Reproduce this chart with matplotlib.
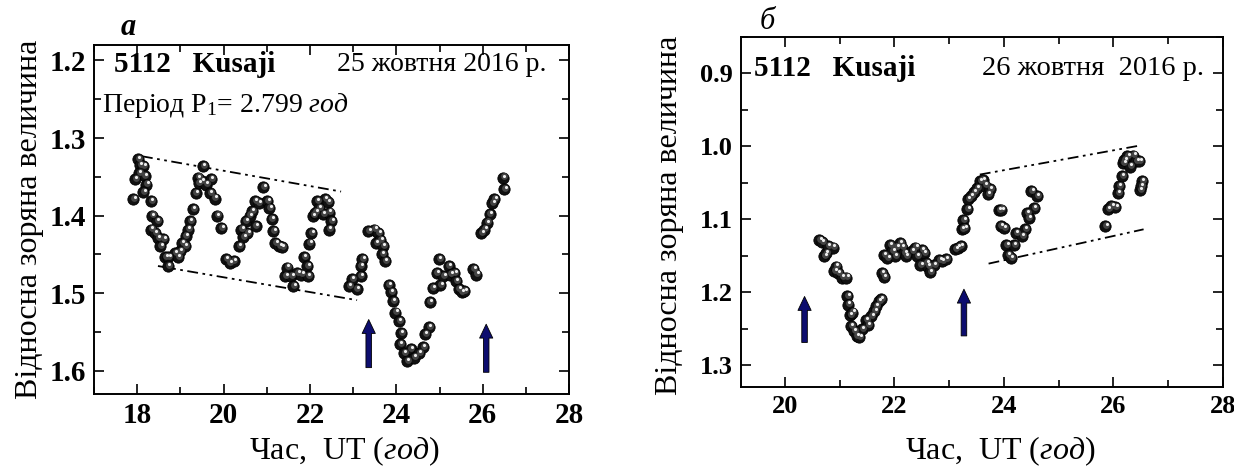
import matplotlib
matplotlib.use('Agg')
import matplotlib.pyplot as plt
import matplotlib.transforms as mtransforms
from matplotlib.ticker import MultipleLocator

plt.rcParams['font.family'] = ['Liberation Serif', 'DejaVu Serif']
plt.rcParams['mathtext.fontset'] = 'custom'
plt.rcParams['mathtext.rm'] = 'Liberation Serif'
plt.rcParams['mathtext.it'] = 'Liberation Serif:italic'

# ---------------- panel a : 25 October 2016 ----------------
time_a = [17.91, 17.95, 18.02, 18.06, 18.04, 18.14, 18.17, 18.21, 18.14, 18.32,
          18.34, 18.46, 18.32, 18.41, 18.48, 18.53, 18.60, 18.65, 18.72, 18.71,
          18.87, 18.94, 18.99, 19.03, 19.10, 19.12, 19.17, 19.22, 19.29, 19.35,
          19.40, 19.42, 19.52, 19.49, 19.59, 19.71, 19.68, 19.79, 19.84, 19.95,
          20.05, 20.14, 20.23, 20.35, 20.41, 20.46, 20.51, 20.55, 20.60, 20.65,
          20.72, 20.74, 20.81, 20.92, 21.01, 21.06, 21.11, 21.15, 21.20, 21.29,
          21.35, 21.43, 21.47, 21.57, 21.61, 21.71, 21.80, 21.86, 21.94, 21.95,
          21.98, 22.03, 22.07, 22.12, 22.16, 22.21, 22.30, 22.35, 22.41, 22.44,
          22.49, 22.44, 22.90, 22.97, 23.08, 23.17, 23.17, 23.21, 23.35, 23.49,
          23.58, 23.53, 23.63, 23.69, 23.67, 23.73, 23.82, 23.87, 23.92, 23.98,
          24.06, 24.10, 24.08, 24.17, 24.24, 24.33, 24.41, 24.52, 24.61, 24.66,
          24.75, 24.77, 24.84, 24.93, 24.98, 25.02, 25.09, 25.21, 25.25, 25.34,
          25.38, 25.44, 25.51, 25.57, 25.78, 25.85, 25.97, 26.04, 26.10, 26.16,
          26.22, 26.27, 26.47, 26.50]
mag_a = [1.379, 1.353, 1.327, 1.335, 1.345, 1.336, 1.349, 1.360, 1.370, 1.381,
         1.400, 1.407, 1.418, 1.422, 1.429, 1.439, 1.430, 1.454, 1.454, 1.465,
         1.448, 1.454, 1.446, 1.435, 1.439, 1.426, 1.418, 1.407, 1.392, 1.371,
         1.351, 1.358, 1.336, 1.356, 1.360, 1.353, 1.371, 1.378, 1.400, 1.416,
         1.456, 1.461, 1.459, 1.439, 1.418, 1.428, 1.407, 1.422, 1.400, 1.394,
         1.381, 1.413, 1.384, 1.363, 1.381, 1.390, 1.405, 1.420, 1.435, 1.439,
         1.441, 1.478, 1.467, 1.478, 1.491, 1.474, 1.476, 1.454, 1.465, 1.478,
         1.436, 1.422, 1.400, 1.396, 1.381, 1.390, 1.398, 1.379, 1.383, 1.396,
         1.407, 1.418, 1.491, 1.482, 1.495, 1.478, 1.465, 1.456, 1.420, 1.418,
         1.422, 1.435, 1.431, 1.439, 1.450, 1.459, 1.489, 1.499, 1.510, 1.525,
         1.536, 1.551, 1.566, 1.577, 1.587, 1.572, 1.583, 1.577, 1.570, 1.553,
         1.544, 1.512, 1.493, 1.474, 1.456, 1.489, 1.478, 1.465, 1.476, 1.474,
         1.484, 1.495, 1.499, 1.497, 1.469, 1.476, 1.422, 1.418, 1.409, 1.398,
         1.384, 1.379, 1.351, 1.366]
trend_a_up_x = [18.11, 22.72]
trend_a_up_y = [1.3235, 1.369]
trend_a_lo_x = [18.48, 23.09]
trend_a_lo_y = [1.465, 1.509]
arrow_a_x = [23.36, 26.08]
arrow_a_tail = [1.596, 1.602]
arrow_a_tip = [1.534, 1.540]

# ---------------- panel b : 26 October 2016 ----------------
time_b = [20.63, 20.68, 20.72, 20.75, 20.79, 20.88, 20.90, 20.93, 20.97, 21.04,
          21.12, 21.14, 21.15, 21.19, 21.23, 21.21, 21.26, 21.31, 21.36, 21.41,
          21.48, 21.52, 21.58, 21.63, 21.66, 21.72, 21.75, 21.77, 21.81, 21.81,
          21.87, 21.92, 21.96, 22.01, 22.04, 22.10, 22.14, 22.18, 22.21, 22.32,
          22.38, 22.41, 22.47, 22.50, 22.54, 22.58, 22.61, 22.65, 22.72, 22.82,
          22.87, 22.94, 23.11, 23.16, 23.21, 23.23, 23.26, 23.28, 23.33, 23.34,
          23.40, 23.45, 23.51, 23.56, 23.61, 23.65, 23.71, 23.74, 23.91, 23.95,
          23.94, 24.00, 24.04, 24.07, 24.13, 24.18, 24.22, 24.33, 24.38, 24.42,
          24.45, 24.50, 24.55, 24.60, 25.85, 25.90, 25.96, 26.03, 26.08, 26.10,
          26.15, 26.18, 26.20, 26.25, 26.30, 26.36, 26.42, 26.47, 26.48, 26.52,
          26.50]
mag_b = [1.129, 1.132, 1.151, 1.146, 1.137, 1.139, 1.171, 1.165, 1.174, 1.180,
         1.180, 1.205, 1.217, 1.231, 1.228, 1.246, 1.253, 1.260, 1.262, 1.251,
         1.238, 1.245, 1.233, 1.226, 1.219, 1.212, 1.209, 1.174, 1.179, 1.149,
         1.153, 1.135, 1.144, 1.151, 1.139, 1.133, 1.139, 1.146, 1.151, 1.144,
         1.139, 1.151, 1.163, 1.142, 1.146, 1.160, 1.165, 1.172, 1.163, 1.156,
         1.158, 1.155, 1.141, 1.139, 1.137, 1.114, 1.101, 1.112, 1.086, 1.073,
         1.069, 1.063, 1.057, 1.048, 1.046, 1.054, 1.066, 1.059, 1.088, 1.087,
         1.109, 1.112, 1.136, 1.149, 1.153, 1.136, 1.119, 1.123, 1.114, 1.092,
         1.098, 1.061, 1.085, 1.068, 1.109, 1.086, 1.082, 1.084, 1.064, 1.055,
         1.041, 1.023, 1.019, 1.014, 1.028, 1.013, 1.021, 1.021, 1.060, 1.048,
         1.055]
trend_b_up_x = [23.56, 26.50]
trend_b_up_y = [1.039, 0.999]
trend_b_lo_x = [23.72, 26.55]
trend_b_lo_y = [1.161, 1.114]
arrow_b_x = [20.36, 23.27]
arrow_b_tail = [1.269, 1.260]
arrow_b_tip = [1.206, 1.196]

AXIS_LABEL_Y = 'Відносна зоряна величина'
AXIS_LABEL_X = r'Час,  UT ($\mathit{год}$)'


#############################################################
def draw_spheres(ax, x, y):
    fig = ax.figure
    ax.scatter(x, y, s=66, c='#111111', edgecolors='black', linewidths=0.6, zorder=3)
    mid = mtransforms.offset_copy(ax.transData, fig=fig, x=0.6, y=0.8, units='points')
    ax.scatter(x, y, s=24, c='#444444', linewidths=0, transform=mid, zorder=4)
    hi = mtransforms.offset_copy(ax.transData, fig=fig, x=1.0, y=1.5, units='points')
    ax.scatter(x, y, s=5, c='#eeeeee', linewidths=0, transform=hi, zorder=5)


#############################################################
def draw_arrows(ax, xs, tails, tips):
    for x, y0, y1 in zip(xs, tails, tips):
        ax.annotate('', xy=(x, y1), xytext=(x, y0),
                    arrowprops=dict(width=4.0, headwidth=9.5, headlength=10,
                                    facecolor='#0d0d6e', edgecolor='black',
                                    linewidth=0.6, shrink=0.0), zorder=6)


#############################################################
def style_axes(ax, tsize, xlim, ylim, yticks, xticks):
    ax.set_xlim(*xlim)
    ax.set_ylim(*ylim)
    ax.set_yticks(yticks)
    ax.set_xticks(xticks)
    ax.xaxis.set_minor_locator(MultipleLocator(1))
    ax.yaxis.set_minor_locator(MultipleLocator(0.05))
    ax.tick_params(which='both', direction='in', top=True, right=True,
                   width=1.2, labelsize=tsize)
    ax.tick_params(which='major', length=7, pad=6)
    ax.tick_params(which='minor', length=5)
    for lab in ax.get_xticklabels() + ax.get_yticklabels():
        lab.set_fontweight('bold')
    for sp in ax.spines.values():
        sp.set_linewidth(1.4)


fig = plt.figure(figsize=(12.34, 4.66), dpi=100)
dd = (0, (6, 2.5, 1.5, 2.5, 1.5, 2.5))

# panel a
ax1 = fig.add_axes([0.0762, 0.1545, 0.385, 0.749])
ax1.plot(trend_a_up_x, trend_a_up_y, color='black', lw=1.3, ls=dd)
ax1.plot(trend_a_lo_x, trend_a_lo_y, color='black', lw=1.3, ls=dd)
draw_spheres(ax1, time_a, mag_a)
draw_arrows(ax1, arrow_a_x, arrow_a_tail, arrow_a_tip)
style_axes(ax1, 21, (17, 28), (1.63, 1.18), [1.2, 1.3, 1.4, 1.5, 1.6],
           [18, 20, 22, 24, 26, 28])
ax1.set_ylabel(AXIS_LABEL_Y, fontsize=23)
ax1.yaxis.set_label_coords(-0.105, 0.5)
ax1.set_xlabel(AXIS_LABEL_X, fontsize=23)
ax1.xaxis.set_label_coords(0.526, -0.115)
ax1.text(0.042, 0.943, '5112   Kusaji', transform=ax1.transAxes, fontsize=21,
         fontweight='bold', ha='left', va='center')
ax1.text(0.952, 0.943, '25 жовтня 2016 р.', transform=ax1.transAxes, fontsize=20,
         ha='right', va='center')
ax1.text(0.017, 0.828, r'Період P$_1$= 2.799 $\mathit{год}$', transform=ax1.transAxes,
         fontsize=20, ha='left', va='center')

# panel b
ax2 = fig.add_axes([0.6005, 0.1695, 0.3906, 0.752])
ax2.plot(trend_b_up_x, trend_b_up_y, color='black', lw=1.3, ls=dd)
ax2.plot(trend_b_lo_x, trend_b_lo_y, color='black', lw=1.3, ls=dd)
draw_spheres(ax2, time_b, mag_b)
draw_arrows(ax2, arrow_b_x, arrow_b_tail, arrow_b_tip)
style_axes(ax2, 19, (19.2, 28), (1.33, 0.85), [0.9, 1.0, 1.1, 1.2, 1.3],
           [20, 22, 24, 26, 28])
ax2.set_ylabel(AXIS_LABEL_Y, fontsize=23)
ax2.yaxis.set_label_coords(-0.118, 0.49)
ax2.set_xlabel(AXIS_LABEL_X, fontsize=23)
ax2.xaxis.set_label_coords(0.537, -0.135)
ax2.text(0.027, 0.91, '5112   Kusaji', transform=ax2.transAxes, fontsize=21,
         fontweight='bold', ha='left', va='center')
ax2.text(0.96, 0.91, '26 жовтня  2016 р.', transform=ax2.transAxes, fontsize=20.5,
         ha='right', va='center')

fig.text(0.1037, 0.942, 'а', fontsize=22, fontstyle='italic', fontweight='bold',
         ha='center', va='center')
fig.text(0.622, 0.953, 'б', fontsize=22, fontstyle='italic', ha='center', va='center')

fig.savefig('out.png', dpi=100)
